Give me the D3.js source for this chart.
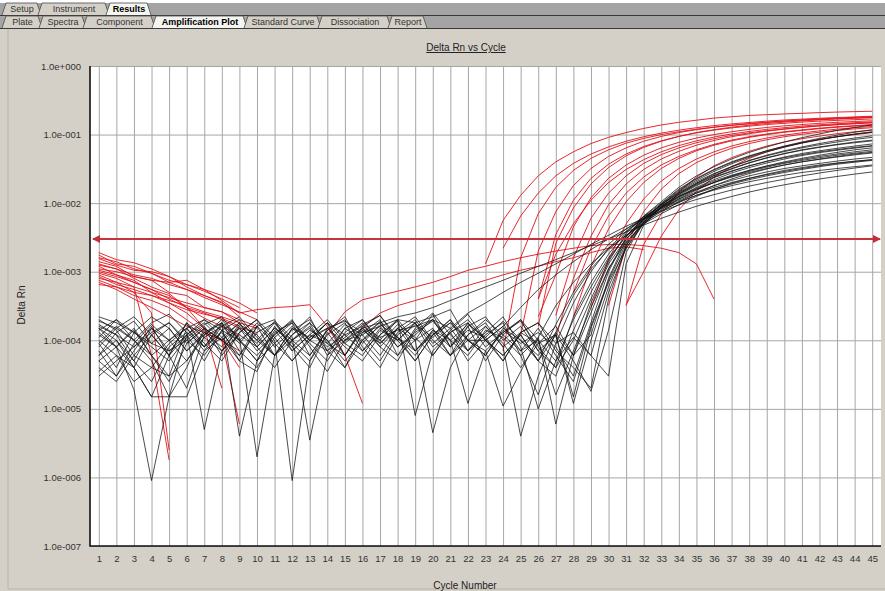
<!DOCTYPE html>
<html>
<head>
<meta charset="utf-8">
<script src="https://cdn.jsdelivr.net/npm/d3@7"></script>
<style>
  html, body { margin: 0; padding: 0; background: #fff; }
  svg { display: block; font-family: "Liberation Sans", Arial, sans-serif; }
</style>
</head>
<body>
<div id="chart"></div>
<script>
// ---- data ----
const cycles = [1,2,3,4,5,6,7,8,9,10,11,12,13,14,15,16,17,18,19,20,21,22,23,24,25,26,27,28,29,30,31,32,33,34,35,36,37,38,39,40,41,42,43,44,45];
const yTicks = [1, 1e-1, 1e-2, 1e-3, 1e-4, 1e-5, 1e-6, 1e-7];
const yTickLabels = ["1.0e+000", "1.0e-001", "1.0e-002", "1.0e-003", "1.0e-004", "1.0e-005", "1.0e-006", "1.0e-007"];
const threshold = 3.0e-3;

const topTabs = ["Setup", "Instrument", "Results"];
const subTabs = ["Plate", "Spectra", "Component", "Amplification Plot", "Standard Curve", "Dissociation", "Report"];

// red wells, first cycles (all start at cycle 1)
const redEarly = [
    [1.9e-3, 1.5e-3, 1.35e-3, 1.1e-3, 8.5e-4, 6.5e-4, 5.2e-4, 4e-4, 3e-4],
    [1.75e-3, 1.3e-3, 1.2e-3, 9.5e-4, 7e-4, 5.5e-4, 4.2e-4, 3.3e-4, 2.6e-4, 2e-4],
    [1.55e-3, 1.25e-3, 1.05e-3, 1e-3, 8.5e-4, 6e-4, 4.5e-4, 3.6e-4, 2.2e-4],
    [1.4e-3, 1.2e-3, 8.5e-4, 7.5e-4, 5e-4, 4.5e-4, 3e-4, 2.6e-4, 1.8e-4],
    [1.25e-3, 1.1e-3, 8e-4, 6e-4, 4.8e-4, 3e-4, 2.1e-4, 1.6e-4, 1.2e-4],
    [1.2e-3, 9e-4, 7.5e-4, 5e-4, 3.5e-4, 2.5e-4, 1.5e-4, 1e-4, 4e-5],
    [1.1e-3, 1e-3, 8.5e-4, 7.5e-4, 7e-4, 7.5e-4, 5.5e-4, 3.8e-4, 2.5e-4],
    [1e-3, 8.5e-4, 7e-4, 5.5e-4, 4e-4, 3e-4, 2.5e-4, 2e-4, 1.5e-4, 1.3e-4],
    [9.5e-4, 8e-4, 6e-4, 6e-5, 1.8e-6],
    [9e-4, 7e-4, 5e-4, 2.5e-4, 2.5e-6],
    [8.5e-4, 6.5e-4, 5.5e-4, 4.5e-4, 3.5e-4, 2.8e-4, 2.4e-4, 2.1e-4, 1.6e-4],
    [8e-4, 7e-4, 6e-4, 5e-4, 4.2e-4, 3.5e-4, 3e-4, 2.6e-4, 2e-4, 1.6e-4],
    [7.5e-4, 6e-4, 4.5e-4, 3.8e-4, 3e-4, 2e-4, 1.3e-4, 1e-4, 6e-6],
    [7e-4, 5.5e-4, 4e-4, 3e-4, 2.2e-4, 1.6e-4, 1.3e-4, 1e-4, 7e-5],
    [6.5e-4, 6e-4, 5e-4, 4.5e-4, 3.8e-4, 3.2e-4, 2.6e-4, 2.2e-4, 1.8e-4, 1.5e-4],
    [1.6e-3, 1.4e-3, 1.1e-3, 9.5e-4, 7.5e-4, 6.5e-4, 5.5e-4, 4.5e-4, 3.5e-4, 2.5e-4],
    [1.3e-3, 1.1e-3, 9e-4, 8e-4, 6.5e-4, 5.5e-4, 4.5e-4, 3.5e-4, 2.5e-4, 2.8e-4, 3e-4, 3.1e-4, 3.3e-4, 1.6e-4, 6e-5, 1.2e-5],
    [1.05e-3, 9e-4, 7e-4, 5.5e-4, 4.5e-4, 3e-4, 1.5e-4, 2e-5]
];

// red wells, amplification part (first cycle of each in redLateStart)
const redLateStart = [23, 24, 24, 25, 26, 26, 26, 27, 27, 28, 29, 30, 31, 31, 28, 26];
const redLate = [
    [1.3e-3, 5.6e-3, 1.3e-2, 2.5e-2, 4e-2, 5.6e-2, 7.4e-2, 9.1e-2, .107, .123, .138, .151, .162, .174, .182, .19, .195, .2, .204, .209, .213, .216, .219],
    [2.2e-3, 6.5e-3, 1.4e-2, 2.5e-2, 3.8e-2, 5.2e-2, 6.6e-2, 8e-2, 9.3e-2, .105, .116, .126, .135, .143, .15, .157, .163, .168, .173, .177, .181, .185],
    [7e-5, 1.6e-3, 7e-3, 1.7e-2, 3e-2, 4.5e-2, 6e-2, 7.5e-2, 8.8e-2, .1, .11, .12, .128, .136, .143, .15, .156, .161, .166, .17, .174, .178],
    [1.2e-4, 2e-3, 7.5e-3, 1.8e-2, 3.2e-2, 4.8e-2, 6.4e-2, 8e-2, 9.4e-2, .107, .118, .128, .137, .145, .152, .158, .164, .169, .174, .178, .182],
    [4e-4, 3.5e-3, 1.1e-2, 2.3e-2, 3.7e-2, 5.2e-2, 6.7e-2, 8.1e-2, 9.4e-2, .106, .116, .125, .133, .14, .146, .152, .157, .161, .165, .169],
    [1.6e-4, 2.6e-3, 8.5e-3, 1.9e-2, 3.3e-2, 4.9e-2, 6.5e-2, 8e-2, 9.4e-2, .107, .118, .128, .137, .145, .152, .158, .164, .169, .173, .177],
    [2.2e-4, 9e-4, 4.5e-3, 1.2e-2, 2.3e-2, 3.6e-2, 5e-2, 6.4e-2, 7.7e-2, 8.9e-2, .1, .11, .119, .127, .134, .14, .146, .151, .155, .159],
    [2.3e-4, 1.6e-3, 6e-3, 1.4e-2, 2.5e-2, 3.8e-2, 5.1e-2, 6.4e-2, 7.6e-2, 8.7e-2, 9.7e-2, .106, .114, .121, .128, .134, .139, .144, .148],
    [1.1e-4, 8e-4, 3.3e-3, 9.5e-3, 1.9e-2, 3.1e-2, 4.4e-2, 5.7e-2, 7e-2, 8.2e-2, 9.3e-2, .103, .112, .12, .127, .134, .14, .145, .15],
    [2.2e-4, 1.2e-3, 4.2e-3, 1.05e-2, 2e-2, 3.2e-2, 4.5e-2, 5.8e-2, 7e-2, 8.1e-2, 9.1e-2, .1, .108, .115, .122, .128, .133, .138],
    [3e-4, 1.5e-3, 5e-3, 1.15e-2, 2.1e-2, 3.2e-2, 4.4e-2, 5.6e-2, 6.8e-2, 7.9e-2, 8.9e-2, 9.8e-2, .106, .113, .12, .126, .131],
    [3.2e-4, 2.4e-3, 7.5e-3, 1.6e-2, 2.7e-2, 3.9e-2, 5.1e-2, 6.3e-2, 7.4e-2, 8.4e-2, 9.3e-2, .101, .108, .115, .121, .126],
    [3.2e-4, 2.5e-3, 7e-3, 1.45e-2, 2.4e-2, 3.5e-2, 4.6e-2, 5.7e-2, 6.8e-2, 7.8e-2, 8.7e-2, 9.5e-2, .103, .11, .116],
    [3.3e-4, 1e-3, 3.3e-3, 8e-3, 1.5e-2, 2.4e-2, 3.4e-2, 4.5e-2, 5.6e-2, 6.6e-2, 7.6e-2, 8.5e-2, 9.3e-2, .1, .107],
    [5e-4, 2.2e-3, 6.5e-3, 1.4e-2, 2.4e-2, 3.6e-2, 4.8e-2, 6e-2, 7.2e-2, 8.3e-2, 9.3e-2, .102, .11, .117, .124, .13, .135, .14],
    [4e-4, 1.8e-3, 5e-3, 1.1e-2, 2e-2, 3.1e-2, 4.3e-2, 5.6e-2, 6.9e-2, 8.1e-2, 9.2e-2, .102, .111, .119, .126, .133, .139, .144, .149, .153]
];

// red wells that drift slowly through the threshold
const redSlowStart = [14, 16];
const redSlow = [
    [1.2e-4, 2.6e-4, 3.9e-4, 4.5e-4, 5.2e-4, 6e-4, 7e-4, 8.5e-4, 1.05e-3, 1.2e-3, 1.4e-3, 1.6e-3, 1.8e-3, 2e-3, 2.2e-3, 2.4e-3, 2.5e-3, 2.5e-3, 2.4e-3, 2.2e-3, 1.9e-3, 1.3e-3, 4e-4],
    [1.5e-4, 2.5e-4, 3.2e-4, 3.8e-4, 4.5e-4, 5.3e-4, 6.3e-4, 7.5e-4, 9e-4, 1.05e-3, 1.2e-3, 1.4e-3, 1.6e-3, 1.9e-3, 2.2e-3, 2.3e-3, 2.1e-3]
];

// black wells, cycles 1-45
const blackCurves = [
    [2e-4, 1.4e-4, 6e-5, 4e-5, 3e-5, 1.5e-4, 2e-4, 1.1e-4, 5e-5, 1.6e-4, 6e-5, 1.2e-4, 2.2e-4, 7e-5, 4e-5, 1.3e-4, 2e-4, 6e-5, 1e-4, 2.4e-4, 8e-5, 1.6e-4, 5e-5, 1.2e-4, 2e-4, 7e-5, 4e-5, 1e-4, 4e-4, 1.4e-3, 3.6e-3, 6.5e-3, 1.05e-2, 1.7e-2, 2.5e-2, 3.4e-2, 4.4e-2, 5.5e-2, 6.6e-2, 7.8e-2, 9e-2, .102, .115, .127, .138],
    [1.5e-4, 8e-5, 1.9e-5, 9e-7, 1.5e-5, 1.2e-4, 2e-4, 1.4e-4, 5e-5, 3.5e-5, 1.3e-4, 1.8e-4, 6e-5, 1.4e-4, 2.2e-4, 8e-5, 4e-5, 1.2e-4, 1.8e-4, 6e-5, 1.4e-4, 2.4e-4, 1e-4, 5e-5, 1.3e-4, 1.8e-4, 7e-5, 4e-5, 2e-5, 4e-4, 2.4e-3, 5.8e-3, 9.8e-3, 1.55e-2, 2.25e-2, 3.05e-2, 3.9e-2, 4.8e-2, 5.8e-2, 6.8e-2, 7.8e-2, 8.8e-2, 9.8e-2, .108, .118],
    [5e-5, 3e-5, 7e-5, 1.6e-4, 6e-5, 2e-5, 1.2e-4, 1.8e-4, 4e-6, 5e-5, 1.6e-4, 8e-5, 4e-5, 1.3e-4, 6e-5, 1.6e-4, 2.3e-4, 1.1e-4, 5e-5, 1.2e-4, 2e-4, 7e-5, 1.3e-4, 2.2e-4, 8e-5, 1e-5, 5e-5, 2e-4, 6e-4, 1.6e-3, 3.3e-3, 6e-3, 9.5e-3, 1.4e-2, 1.95e-2, 2.65e-2, 3.4e-2, 4.2e-2, 5e-2, 5.8e-2, 6.6e-2, 7.4e-2, 8.2e-2, 8.9e-2, 9.6e-2],
    [1.1e-4, 2e-4, 1e-4, 1.8e-4, 2.4e-4, 1.3e-4, 8e-5, 1.8e-4, 1.1e-4, 2e-6, 6e-5, 1.5e-4, 9e-5, 5e-5, 1.3e-4, 2e-4, 1e-4, 6e-5, 1.5e-4, 2.5e-4, 1.2e-4, 7e-5, 1.6e-4, 9e-5, 4e-5, 9e-5, 1.6e-4, 6e-5, 1.2e-4, 8e-4, 2.9e-3, 6e-3, 9.5e-3, 1.5e-2, 2.15e-2, 2.9e-2, 3.75e-2, 4.65e-2, 5.6e-2, 6.55e-2, 7.5e-2, 8.4e-2, 9.3e-2, .102, .11],
    [3.5e-5, 6e-5, 4e-5, 1.5e-5, 1.5e-5, 1.5e-5, 7e-5, 1.6e-4, 9e-5, 1.8e-4, 1e-4, 9e-7, 5e-5, 1.5e-4, 8e-5, 5e-5, 1.2e-4, 1.9e-4, 7e-5, 1.3e-4, 6e-5, 1.6e-4, 2.2e-4, 1e-4, 1.6e-4, 7e-5, 1.2e-4, 5e-5, 1.8e-5, 1.4e-4, 1.9e-3, 5.5e-3, 9.5e-3, 1.45e-2, 2.05e-2, 2.7e-2, 3.4e-2, 4.15e-2, 4.9e-2, 5.65e-2, 6.4e-2, 7.1e-2, 7.8e-2, 8.5e-2, 9.1e-2],
    [1.6e-4, 1.2e-4, 5e-5, 2.5e-5, 8e-5, 1.3e-4, 5e-6, 7e-5, 1.6e-4, 1e-4, 1.9e-4, 1.1e-4, 3.5e-6, 6e-5, 1.5e-4, 1e-4, 5e-5, 1.3e-4, 2e-4, 9e-5, 1.5e-4, 7e-5, 1.2e-4, 1.8e-4, 6e-5, 1.1e-4, 6e-6, 6e-5, 3.5e-4, 1.3e-3, 3e-3, 5.8e-3, 9.5e-3, 1.4e-2, 1.95e-2, 2.55e-2, 3.2e-2, 3.9e-2, 4.6e-2, 5.3e-2, 6e-2, 6.6e-2, 7.2e-2, 7.8e-2, 8.3e-2],
    [9e-5, 4e-5, 1.3e-4, 2.2e-4, 1.5e-4, 7e-5, 1.2e-4, 2e-4, 1e-4, 5e-5, 9e-5, 1.6e-4, 1e-4, 1.8e-4, 6e-5, 1.5e-4, 1e-4, 2e-4, 8e-6, 7e-5, 1.3e-4, 1.8e-4, 8e-5, 1.3e-4, 2e-4, 1e-4, 5e-5, 1.1e-4, 6e-5, 5e-4, 2.2e-3, 5e-3, 8.5e-3, 1.25e-2, 1.7e-2, 2.2e-2, 2.75e-2, 3.3e-2, 3.85e-2, 4.4e-2, 4.95e-2, 5.45e-2, 5.9e-2, 6.35e-2, 6.8e-2],
    [6e-5, 1e-4, 4e-5, 1.2e-4, 6e-5, 1.8e-4, 8e-5, 1.3e-4, 6e-5, 1.6e-4, 2e-4, 7e-5, 1.2e-4, 9e-5, 1.7e-4, 1.2e-4, 6e-5, 1.5e-4, 1e-4, 4.5e-6, 4e-5, 1.2e-4, 2e-4, 1.2e-4, 7e-5, 1.5e-4, 6e-5, 2.5e-5, 1.6e-4, 7.5e-4, 2.6e-3, 5.3e-3, 8.6e-3, 1.2e-2, 1.6e-2, 2e-2, 2.45e-2, 2.9e-2, 3.35e-2, 3.8e-2, 4.2e-2, 4.6e-2, 5e-2, 5.35e-2, 5.7e-2],
    [2.2e-4, 1.8e-4, 1.3e-4, 8e-5, 5e-5, 1.1e-4, 1.7e-4, 2.2e-4, 1e-4, 6e-5, 1.2e-4, 2e-4, 8e-5, 3.5e-5, 1e-4, 1.7e-4, 2.3e-4, 1e-4, 5e-5, 1.2e-4, 2e-4, 1e-4, 6e-5, 1.5e-4, 1e-4, 5e-5, 1.2e-4, 1.2e-5, 1e-4, 6e-4, 2.4e-3, 5.2e-3, 8.8e-3, 1.35e-2, 1.9e-2, 2.5e-2, 3.15e-2, 3.85e-2, 4.55e-2, 5.25e-2, 5.9e-2, 6.5e-2, 7.1e-2, 7.6e-2, 8.1e-2],
    [1e-4, 6e-5, 2.5e-5, 4e-5, 9e-5, 1.5e-4, 7e-5, 1.1e-4, 1.8e-4, 8e-5, 4e-5, 1e-4, 1.6e-4, 7e-5, 1.1e-4, 1.8e-4, 8e-5, 1.5e-4, 2.2e-4, 1e-4, 6e-5, 1.2e-4, 1.8e-4, 8e-5, 1.3e-4, 1.8e-4, 9e-5, 1.3e-4, 6e-5, 3e-5, 1.3e-3, 4.8e-3, 9e-3, 1.35e-2, 1.85e-2, 2.4e-2, 2.95e-2, 3.5e-2, 4.05e-2, 4.6e-2, 5.1e-2, 5.6e-2, 6.05e-2, 6.5e-2, 6.9e-2],
    [4e-5, 2.5e-5, 6e-5, 1.2e-4, 1.8e-4, 9e-5, 1.5e-4, 6e-5, 1.3e-4, 2e-4, 1.1e-4, 5e-5, 1e-4, 1.8e-4, 1.2e-4, 7e-5, 1.5e-4, 1e-4, 1.8e-4, 8e-5, 1.3e-4, 5e-5, 1e-4, 1.6e-4, 7e-5, 1e-4, 1.6e-5, 7e-5, 3e-4, 1.1e-3, 2.7e-3, 5e-3, 8e-3, 1.15e-2, 1.55e-2, 2e-2, 2.5e-2, 3e-2, 3.5e-2, 4e-2, 4.5e-2, 5e-2, 5.5e-2, 6e-2, 6.4e-2],
    [1.3e-4, 8e-5, 1.5e-4, 6e-5, 3e-5, 5e-5, 1.1e-4, 1.6e-4, 2.2e-4, 1.1e-4, 6e-5, 1.2e-4, 1.8e-4, 1e-4, 4e-5, 1e-4, 1.6e-4, 8e-5, 1.3e-4, 1.9e-4, 1e-4, 1.2e-5, 7e-5, 1.3e-4, 1.9e-4, 8e-5, 4e-5, 2.2e-4, 7e-4, 1.8e-3, 3.8e-3, 6.3e-3, 9.2e-3, 1.25e-2, 1.6e-2, 2e-2, 2.4e-2, 2.8e-2, 3.2e-2, 3.6e-2, 4e-2, 4.35e-2, 4.7e-2, 5.05e-2, 5.4e-2],
    [8e-5, 1.5e-4, 2.2e-4, 1.2e-4, 6e-5, 1.8e-4, 1.1e-4, 7e-5, 1.5e-4, 9e-5, 1.8e-4, 1e-4, 6e-5, 1.4e-4, 2e-4, 9e-5, 1.7e-4, 1.1e-4, 6e-5, 1.4e-4, 8e-5, 1.8e-4, 1e-4, 6e-5, 1.2e-4, 5e-5, 3e-5, 1.4e-4, 5e-4, 1.5e-3, 3.3e-3, 5.8e-3, 8.5e-3, 1.15e-2, 1.45e-2, 1.8e-2, 2.15e-2, 2.5e-2, 2.85e-2, 3.2e-2, 3.5e-2, 3.8e-2, 4.1e-2, 4.4e-2, 4.65e-2],
    [1.5e-4, 1e-4, 5e-5, 1.5e-4, 1e-4, 5e-5, 1.3e-4, 1.8e-4, 7e-5, 4e-5, 1.1e-4, 1.8e-4, 1e-4, 7e-5, 1.5e-4, 2e-4, 9e-5, 1.5e-4, 7e-5, 1.2e-4, 1.8e-4, 1e-4, 7e-5, 1.1e-5, 3.5e-5, 1.1e-4, 3.2e-4, 7e-4, 1.3e-3, 2.2e-3, 3.4e-3, 5e-3, 7e-3, 9.5e-3, 1.25e-2, 1.6e-2, 1.95e-2, 2.3e-2, 2.65e-2, 3e-2, 3.3e-2, 3.6e-2, 3.85e-2, 4.1e-2, 4.3e-2],
    [9e-5, 1.6e-4, 1e-4, 5e-5, 1.5e-5, 4e-5, 1.5e-4, 1e-4, 1.8e-4, 8e-5, 1.5e-4, 9e-5, 5e-5, 1.2e-4, 1.8e-4, 7e-5, 1.2e-4, 2e-4, 1e-4, 1.5e-4, 6e-5, 1e-4, 1.6e-4, 8e-5, 4e-6, 3e-5, 1.3e-4, 4.5e-4, 1.1e-3, 2.1e-3, 3.4e-3, 5.2e-3, 7.5e-3, 1.05e-2, 1.4e-2, 1.8e-2, 2.25e-2, 2.7e-2, 3.15e-2, 3.6e-2, 4e-2, 4.4e-2, 4.8e-2, 5.2e-2, 5.5e-2],
    [1.9e-4, 1.5e-4, 1e-4, 6e-5, 1e-4, 1.7e-4, 9e-5, 5e-5, 1.3e-4, 2e-4, 8e-5, 1.4e-4, 2e-4, 9e-5, 6e-5, 1.4e-4, 9e-5, 1.7e-4, 1.1e-4, 6e-5, 1.3e-4, 2e-4, 1e-4, 6e-5, 1.2e-4, 5e-5, 1.7e-4, 5e-4, 1.2e-3, 2.5e-3, 4.2e-3, 6.3e-3, 8.6e-3, 1.1e-2, 1.4e-2, 1.7e-2, 2e-2, 2.3e-2, 2.6e-2, 2.9e-2, 3.2e-2, 3.5e-2, 3.8e-2, 4.05e-2, 4.3e-2],
    [7e-5, 3e-5, 9e-5, 1.7e-4, 1e-4, 1.5e-4, 8e-5, 1.7e-4, 1e-4, 5e-5, 1.4e-4, 7e-5, 1.2e-4, 2e-4, 1e-4, 1.2e-4, 1.8e-4, 8e-5, 1.2e-4, 2e-4, 1e-4, 6e-5, 1.4e-4, 1.1e-4, 6e-5, 1.6e-5, 9e-5, 3.5e-4, 1e-3, 2.2e-3, 3.9e-3, 6e-3, 8.3e-3, 1.05e-2, 1.3e-2, 1.55e-2, 1.8e-2, 2.05e-2, 2.3e-2, 2.55e-2, 2.8e-2, 3e-2, 3.2e-2, 3.4e-2, 3.6e-2],
    [1.2e-4, 8e-5, 4e-5, 1.5e-5, 6e-5, 1.2e-4, 1.8e-4, 1e-4, 1.5e-4, 7e-5, 1.2e-4, 1.9e-4, 1e-4, 1.5e-4, 9e-5, 1.5e-4, 1.8e-4, 2.2e-4, 2.5e-4, 3e-4, 3.8e-4, 4.8e-4, 6e-4, 7.5e-4, 9.5e-4, 1.2e-3, 1.5e-3, 1.9e-3, 2.4e-3, 3e-3, 3.8e-3, 4.8e-3, 6e-3, 7.4e-3, 9e-3, 1.07e-2, 1.25e-2, 1.45e-2, 1.65e-2, 1.85e-2, 2.05e-2, 2.25e-2, 2.45e-2, 2.65e-2, 2.85e-2],
    [6e-5, 1.3e-4, 1.9e-4, 9e-5, 1.5e-4, 7e-5, 1.3e-4, 8e-5, 1.7e-4, 1.2e-4, 6e-5, 1e-4, 1.5e-4, 8e-5, 1.2e-4, 1.6e-4, 1.1e-4, 1.4e-4, 1.6e-4, 2e-4, 1.5e-4, 2.5e-4, 3.5e-4, 5e-4, 7e-4, 9.5e-4, 1.3e-3, 1.8e-3, 2.5e-3, 3.4e-3, 4.6e-3, 6e-3, 7.6e-3, 9.4e-3, 1.13e-2, 1.33e-2, 1.55e-2, 1.77e-2, 2e-2, 2.23e-2, 2.5e-2, 2.75e-2, 3e-2, 3.25e-2, 3.5e-2],
    [1.4e-4, 2e-4, 1.3e-4, 9e-5, 7e-5, 1.2e-4, 5e-5, 1.4e-4, 1e-4, 1.6e-4, 9e-5, 5e-5, 1.1e-4, 1.5e-4, 1.9e-4, 1.3e-4, 1.6e-4, 2e-4, 1.8e-4, 2.2e-4, 2.8e-4, 1e-4, 1e-4, 1.6e-4, 3e-4, 5.5e-4, 9e-4, 1.4e-3, 2.1e-3, 3e-3, 4.2e-3, 5.8e-3, 7.8e-3, 1.02e-2, 1.3e-2, 1.6e-2, 1.9e-2, 2.2e-2, 2.5e-2, 2.8e-2, 3.1e-2, 3.4e-2, 3.7e-2, 3.95e-2, 4.2e-2],
    [3e-5, 5e-5, 8e-5, 1.3e-4, 1.8e-4, 1e-4, 6e-5, 1.4e-4, 2e-4, 1e-4, 6e-5, 1.5e-4, 1.1e-4, 1.8e-4, 9e-5, 6e-5, 1.4e-4, 1e-4, 1.7e-4, 1.1e-4, 1.8e-4, 1e-4, 6e-5, 1.4e-4, 9e-5, 1.3e-4, 8e-5, 3e-5, 1.8e-4, 1e-3, 3.2e-3, 6.4e-3, 1e-2, 1.6e-2, 2.3e-2, 3.1e-2, 4e-2, 4.9e-2, 5.8e-2, 6.7e-2, 7.6e-2, 8.5e-2, 9.3e-2, .101, .108],
    [1.7e-4, 1.2e-4, 8e-5, 1.5e-4, 7e-5, 1e-4, 1.6e-4, 7e-5, 1.2e-4, 8e-5, 1.5e-4, 1e-4, 1.8e-4, 6e-5, 1e-4, 1.5e-4, 8e-5, 5e-5, 1.4e-4, 2e-4, 8e-5, 1.4e-4, 1.1e-4, 5e-5, 1.3e-4, 9e-5, 1.2e-4, 1.5e-5, 1.5e-4, 7e-4, 2.2e-3, 5.3e-3, 9e-3, 1.3e-2, 1.8e-2, 2.35e-2, 2.9e-2, 3.5e-2, 4.1e-2, 4.7e-2, 5.3e-2, 5.8e-2, 6.3e-2, 6.8e-2, 7.3e-2],
    [5e-5, 8e-5, 1.4e-4, 6e-5, 2.5e-5, 9e-5, 1.5e-4, 1e-4, 6e-5, 1.3e-4, 1.8e-4, 8e-5, 1.4e-4, 1e-4, 5e-5, 1e-4, 1.9e-4, 1.1e-4, 7e-5, 1.4e-4, 1e-4, 1.7e-4, 1.1e-4, 1.9e-4, 1e-4, 6e-5, 1.3e-4, 6e-5, 2.5e-4, 1.1e-3, 3e-3, 5.6e-3, 8.8e-3, 1.25e-2, 1.65e-2, 2.1e-2, 2.55e-2, 3e-2, 3.45e-2, 3.9e-2, 4.35e-2, 4.8e-2, 5.2e-2, 5.6e-2, 6e-2]
];

// ---- layout ----
const W = 885, H = 591;
const plot = { left: 90, right: 881, top: 66, bottom: 546 };

const svg = d3.select("#chart").append("svg")
    .attr("width", W)
    .attr("height", H);

// window background
svg.append("rect").attr("width", W).attr("height", H).attr("fill", "#fff");
svg.append("rect")
    .attr("x", 0).attr("y", 29).attr("width", W).attr("height", H - 29)
    .attr("fill", "#d4d0c8");
svg.append("line")
    .attr("x1", 8).attr("x2", 8).attr("y1", 29).attr("y2", 589)
    .attr("stroke", "#b8b4ac");
svg.append("line")
    .attr("x1", 8).attr("x2", W).attr("y1", 589).attr("y2", 589)
    .attr("stroke", "#b8b4ac");

// tab strips
function drawTabRow(labels, edges, top, bottom, active) {
    svg.append("rect")
        .attr("x", 0).attr("y", top).attr("width", W).attr("height", bottom - top)
        .attr("fill", "#a4a4a4");
    svg.append("line")
        .attr("x1", 0).attr("x2", W).attr("y1", bottom + 0.5).attr("y2", bottom + 0.5)
        .attr("stroke", "#3a3a3a");
    labels.forEach((label, i) => {
        const x0 = edges[i], x1 = edges[i + 1];
        const isActive = i === active;
        svg.append("path")
            .attr("d", `M${x0},${bottom} L${x0 + 4},${top} L${x1 - 1},${top} L${x1 + 3},${bottom}`)
            .attr("fill", isActive ? "#f4f4f0" : "#d4d0c8")
            .attr("stroke", "#4a4a4a")
            .attr("stroke-width", 0.8);
        svg.append("text")
            .attr("x", (x0 + x1) / 2 + 2)
            .attr("y", bottom - 3)
            .attr("text-anchor", "middle")
            .attr("font-size", 9)
            .attr("font-weight", isActive ? "bold" : "normal")
            .attr("fill", isActive ? "#000" : "#333")
            .text(label);
    });
}
drawTabRow(topTabs, [2, 38, 106, 148], 3, 15, 2);
drawTabRow(subTabs, [2, 39, 83, 152, 244, 318, 388, 424], 16, 28, 3);

// scales
const x = d3.scaleLinear().domain([0.5, 45.5]).range([plot.left, plot.right]);
const y = d3.scaleLog().domain([1e-7, 1]).range([plot.bottom, plot.top]);

svg.append("rect")
    .attr("x", plot.left).attr("y", plot.top)
    .attr("width", plot.right - plot.left).attr("height", plot.bottom - plot.top)
    .attr("fill", "#fff");

// grid
svg.append("g")
    .attr("transform", `translate(0,${plot.bottom})`)
    .call(d3.axisBottom(x).tickValues(cycles).tickSize(-(plot.bottom - plot.top)).tickFormat(""))
    .call(g => g.select(".domain").remove())
    .call(g => g.selectAll("line").attr("stroke", "#a6a6a6"));
svg.append("g")
    .attr("transform", `translate(${plot.left},0)`)
    .call(d3.axisLeft(y).tickValues(yTicks).tickSize(-(plot.right - plot.left)).tickFormat(""))
    .call(g => g.select(".domain").remove())
    .call(g => g.selectAll("line").attr("stroke", "#a6a6a6"));

// axis labels
svg.append("g")
    .attr("transform", `translate(${plot.left},0)`)
    .call(d3.axisLeft(y).tickValues(yTicks).tickSize(0).tickPadding(9).tickFormat((d, i) => yTickLabels[i]))
    .call(g => g.select(".domain").remove())
    .call(g => g.selectAll("text").attr("font-size", 9.5).attr("fill", "#333")
        .attr("font-family", "Liberation Sans, Arial, sans-serif"));
svg.append("g")
    .attr("transform", `translate(0,${plot.bottom})`)
    .call(d3.axisBottom(x).tickValues(cycles).tickSize(0).tickPadding(9).tickFormat(d3.format("d")))
    .call(g => g.select(".domain").remove())
    .call(g => g.selectAll("text").attr("font-size", 9.5).attr("fill", "#333")
        .attr("font-family", "Liberation Sans, Arial, sans-serif"));

// frame
svg.append("path")
    .attr("d", `M${plot.left},${plot.top} V${plot.bottom} H${plot.right}`)
    .attr("fill", "none")
    .attr("stroke", "#111")
    .attr("stroke-width", 1.6);

// curves
const line = d3.line()
    .defined(d => d[1] != null)
    .x(d => x(d[0]))
    .y(d => y(d[1]));

function toPoints(startCycle, values) {
    const i0 = cycles.indexOf(startCycle);
    return values.map((v, i) => [cycles[i0 + i], v]);
}

svg.append("clipPath").attr("id", "plotClip")
    .append("rect")
    .attr("x", plot.left + 1).attr("y", plot.top)
    .attr("width", plot.right - plot.left - 1).attr("height", plot.bottom - plot.top - 1);

const curves = svg.append("g").attr("clip-path", "url(#plotClip)");

const redSeries = []
    .concat(redEarly.map(v => toPoints(1, v)))
    .concat(redLate.map((v, i) => toPoints(redLateStart[i], v)))
    .concat(redSlow.map((v, i) => toPoints(redSlowStart[i], v)));

curves.selectAll(".red")
    .data(redSeries)
    .join("path")
    .attr("class", "red")
    .attr("d", line)
    .attr("fill", "none")
    .attr("stroke", "#e3121a")
    .attr("stroke-width", 1)
    .attr("stroke-opacity", 0.9);

curves.selectAll(".black")
    .data(blackCurves.map(v => toPoints(1, v)))
    .join("path")
    .attr("class", "black")
    .attr("d", line)
    .attr("fill", "none")
    .attr("stroke", "#111")
    .attr("stroke-width", 0.9)
    .attr("stroke-opacity", 0.85);

// threshold
const defs = svg.append("defs");
defs.append("marker")
    .attr("id", "arrow")
    .attr("viewBox", "0 0 8 8")
    .attr("refX", 7).attr("refY", 4)
    .attr("markerWidth", 4).attr("markerHeight", 4)
    .attr("orient", "auto-start-reverse")
    .append("path")
    .attr("d", "M0,0 L8,4 L0,8 Z")
    .attr("fill", "#c0303a");

svg.append("line")
    .attr("x1", plot.left + 3).attr("x2", plot.right - 1)
    .attr("y1", y(threshold)).attr("y2", y(threshold))
    .attr("stroke", "#c8323c")
    .attr("stroke-width", 2)
    .attr("marker-start", "url(#arrow)")
    .attr("marker-end", "url(#arrow)");

// titles
svg.append("text")
    .attr("x", 466).attr("y", 51)
    .attr("text-anchor", "middle")
    .attr("font-size", 10)
    .attr("fill", "#222")
    .attr("text-decoration", "underline")
    .text("Delta Rn vs Cycle");

svg.append("text")
    .attr("x", 465).attr("y", 589)
    .attr("text-anchor", "middle")
    .attr("font-size", 10)
    .attr("fill", "#222")
    .text("Cycle Number");

svg.append("text")
    .attr("transform", "translate(25,305) rotate(-90)")
    .attr("text-anchor", "middle")
    .attr("font-size", 10)
    .attr("fill", "#222")
    .text("Delta Rn");
</script>
</body>
</html>
